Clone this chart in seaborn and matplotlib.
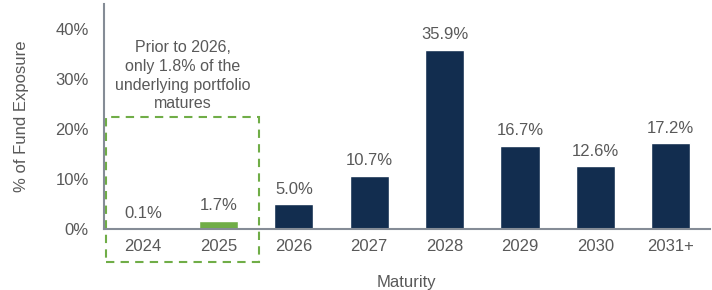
import numpy as np
import pandas as pd
import seaborn as sns
import matplotlib.pyplot as plt
from matplotlib.patches import Rectangle

years = ['2024', '2025', '2026', '2027', '2028', '2029', '2030', '2031+']
exposure = [0.1, 1.7, 5.0, 10.7, 35.9, 16.7, 12.6, 17.2]
labels = ['0.1%', '1.7%', '5.0%', '10.7%', '35.9%', '16.7%', '12.6%', '17.2%']
group = ['early', 'early', 'late', 'late', 'late', 'late', 'late', 'late']

navy = '#122d4f'
green = '#70ad47'
grey = '#595959'

df = pd.DataFrame({'Maturity': years, 'Exposure': exposure, 'group': group})
df.loc[0, 'group'] = 'tiny'

sns.set_style('white')
plt.rcParams['font.family'] = ['Liberation Sans', 'DejaVu Sans']

fig, ax = plt.subplots(figsize=(7.12, 2.9), dpi=100)
fig.subplots_adjust(left=0.146, right=0.997, top=0.985, bottom=0.21)

sns.barplot(data=df, x='Maturity', y='Exposure', hue='group',
            palette={'tiny': navy, 'early': green, 'late': navy},
            width=0.52, legend=False, dodge=False, saturation=1, ax=ax)

for i, (v, lab) in enumerate(zip(exposure, labels)):
    ax.text(i, v + 1.5, lab, ha='center', va='bottom', fontsize=12, color=grey)

ax.set_ylim(0, 45)
ax.set_xlim(-0.52, 7.52)
ax.set_yticks([0, 10, 20, 30, 40])
ax.set_yticklabels(['0%', '10%', '20%', '30%', '40%'])
ax.tick_params(axis='both', labelsize=12, colors=grey, length=0)
ax.tick_params(axis='y', pad=11)
ax.tick_params(axis='x', pad=7)
ax.set_ylabel('% of Fund Exposure', fontsize=12, color=grey, labelpad=19)
ax.set_xlabel('Maturity', fontsize=12, color=grey, labelpad=15)

for s in ['top', 'right']:
    ax.spines[s].set_visible(False)
for s in ['left', 'bottom']:
    ax.spines[s].set_color('#858c96')
    ax.spines[s].set_linewidth(1.5)

box = Rectangle((-0.49, -6.6), 2.03, 29.1, fill=False, edgecolor=green,
                linestyle=(0, (4, 3)), linewidth=1.5, clip_on=False)
ax.add_patch(box)
ax.text(0.53, 23.6, 'Prior to 2026,\nonly 1.8% of the\nunderlying portfolio\nmatures',
        ha='center', va='bottom', fontsize=11.5, color=grey, linespacing=1.3)

fig.savefig('out.png', dpi=100)
